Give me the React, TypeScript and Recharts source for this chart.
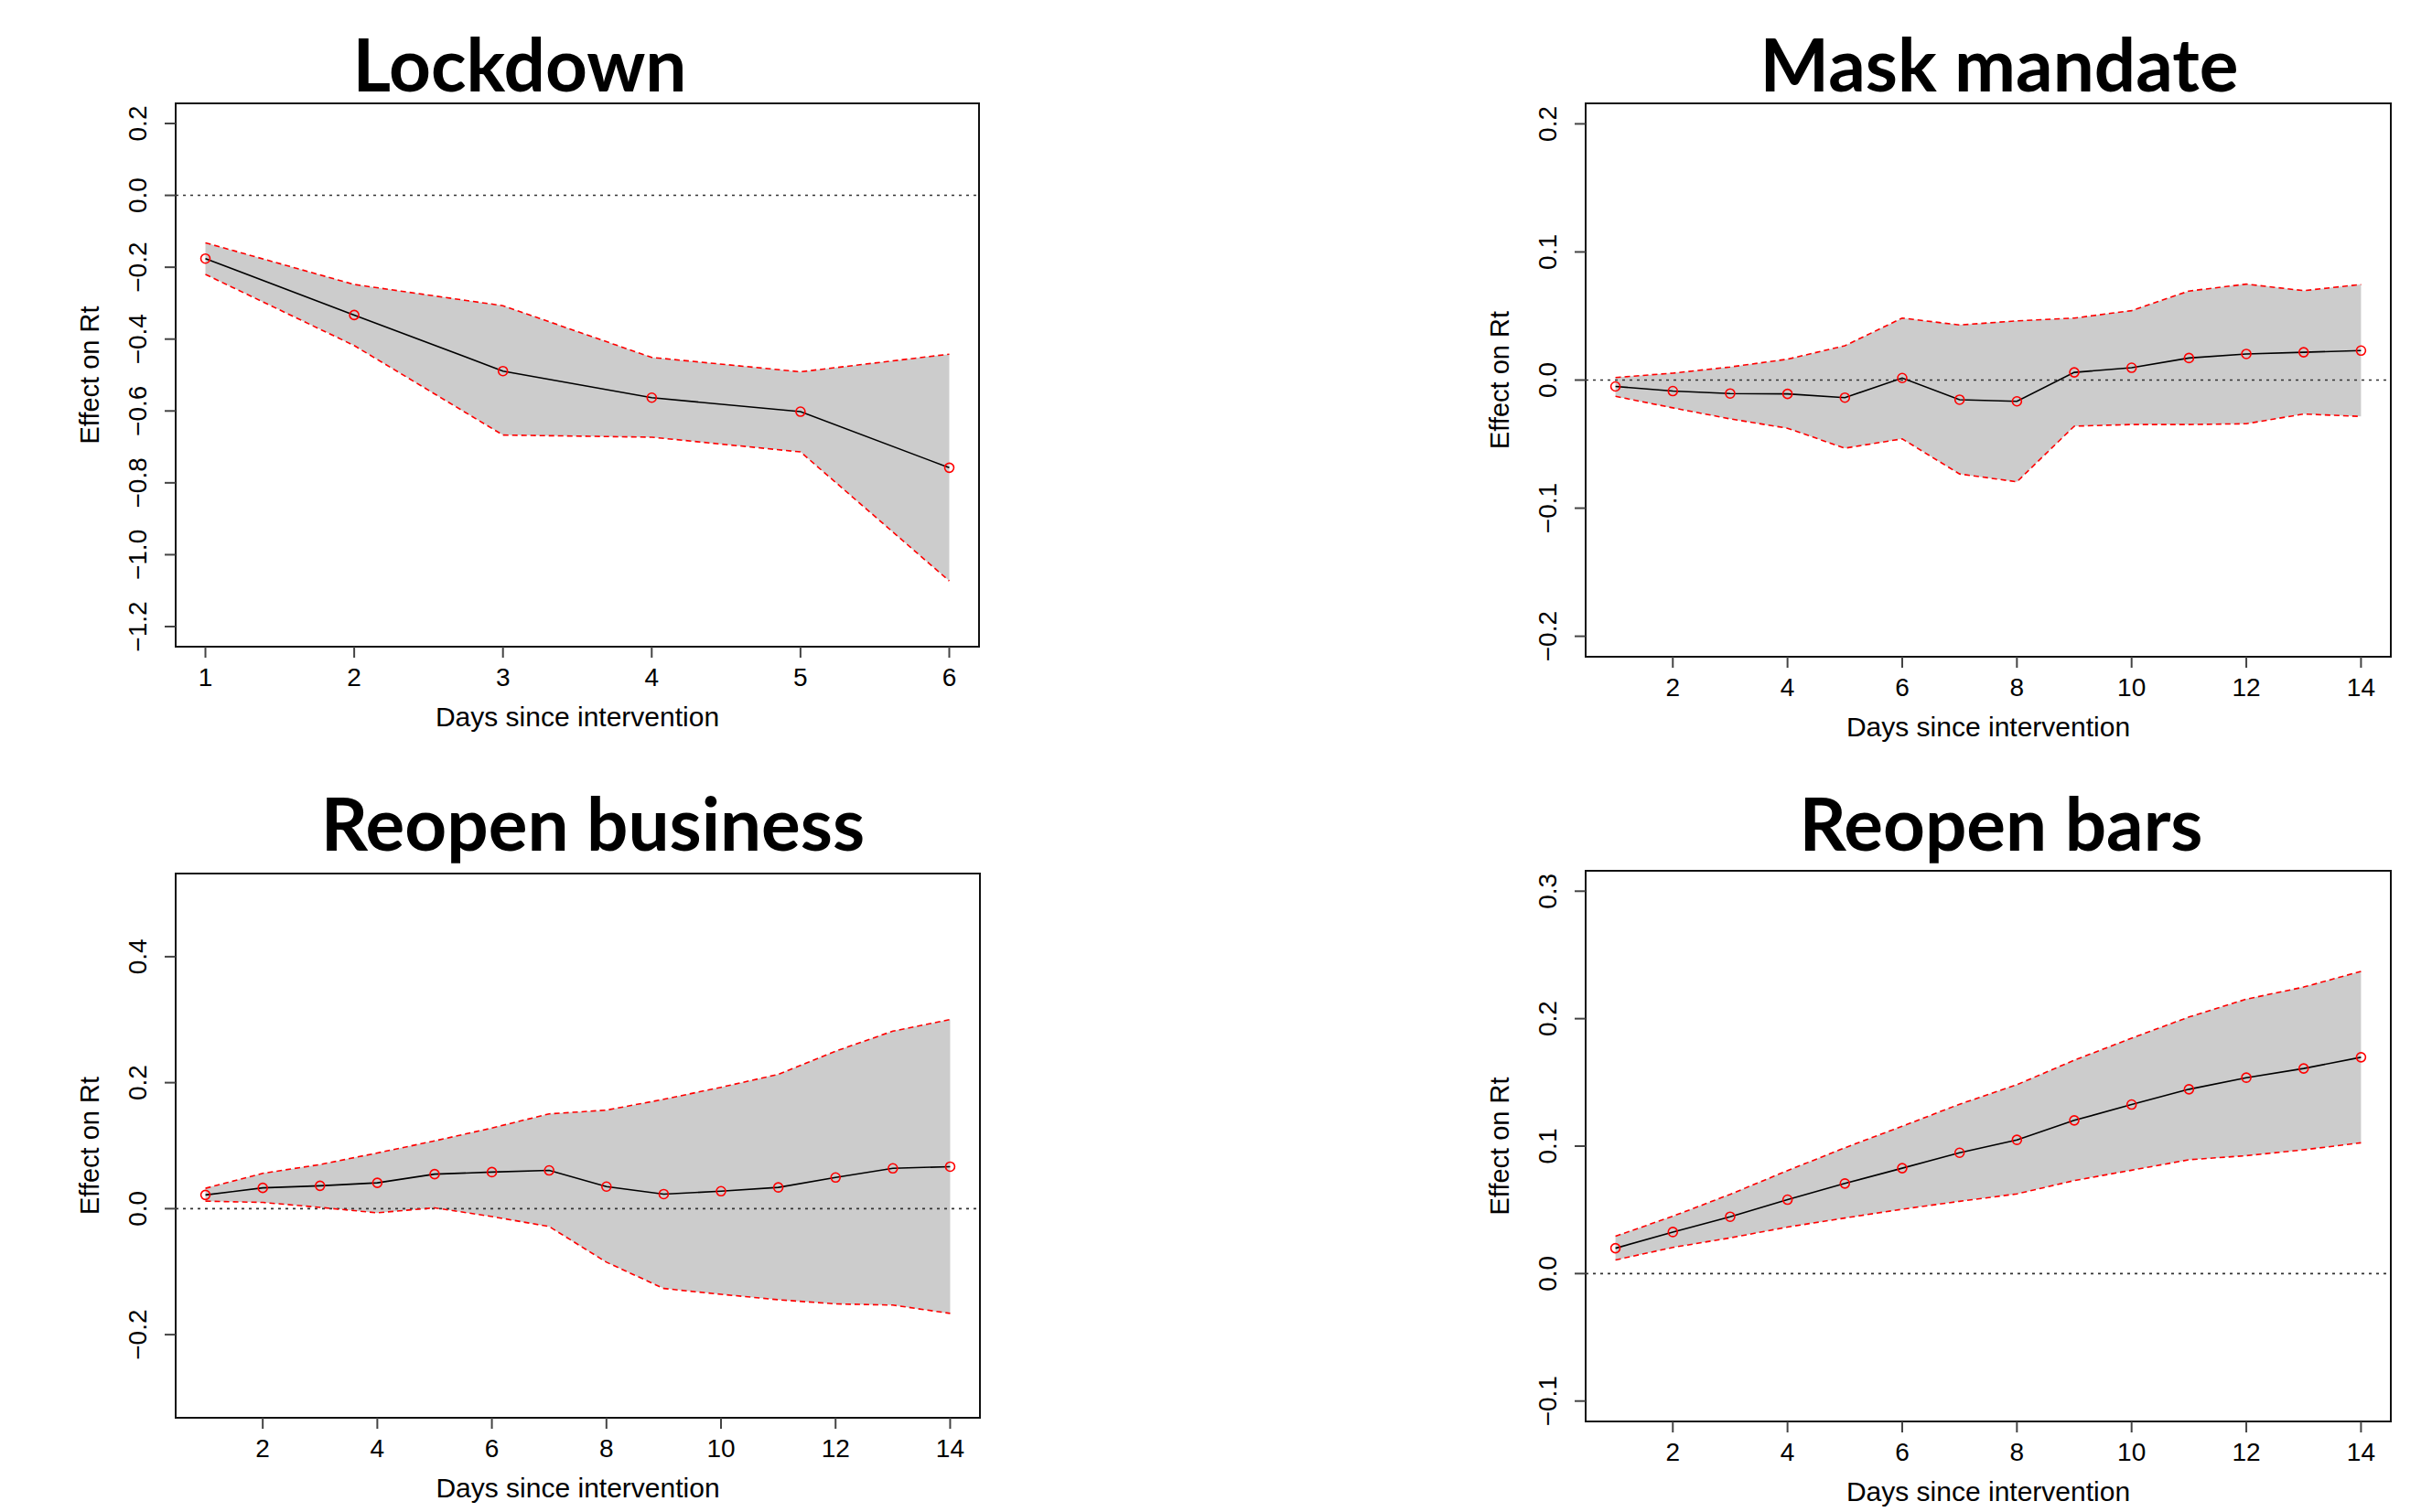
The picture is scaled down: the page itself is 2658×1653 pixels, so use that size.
import React from 'react';
import {
  ComposedChart,
  Area,
  Line,
  XAxis,
  YAxis,
  ReferenceLine,
  ReferenceArea,
  Label,
} from 'recharts';

const AXIS_FONT = '"Liberation Sans", Arial, Helvetica, sans-serif';
const TITLE_FONT = 'Lato, "Open Sans", sans-serif';

// ---- data ----
const days6 = [1, 2, 3, 4, 5, 6];
const days14 = [1, 2, 3, 4, 5, 6, 7, 8, 9, 10, 11, 12, 13, 14];

const lockdownMean = [-0.176, -0.333, -0.489, -0.563, -0.602, -0.758];
const lockdownUpper = [-0.132, -0.248, -0.307, -0.451, -0.491, -0.442];
const lockdownLower = [-0.22, -0.418, -0.667, -0.673, -0.714, -1.073];

const maskMean = [-0.005, -0.0086, -0.0105, -0.0108, -0.0137, 0.0016, -0.0153, -0.0166, 0.006, 0.0096, 0.0172, 0.0204, 0.0217, 0.023];
const maskUpper = [0.002, 0.0054, 0.0102, 0.0163, 0.0268, 0.0484, 0.043, 0.0462, 0.0484, 0.0542, 0.0695, 0.0749, 0.0698, 0.0746];
const maskLower = [-0.0127, -0.0217, -0.0303, -0.0376, -0.0532, -0.0459, -0.0733, -0.0794, -0.036, -0.0347, -0.0347, -0.0341, -0.0265, -0.0284];

const businessMean = [0.0218, 0.033, 0.0363, 0.041, 0.0548, 0.058, 0.0607, 0.035, 0.0231, 0.0277, 0.0337, 0.0495, 0.064, 0.0667];
const businessUpper = [0.0323, 0.0561, 0.07, 0.0884, 0.1076, 0.128, 0.1505, 0.1564, 0.1736, 0.1927, 0.2132, 0.25, 0.2818, 0.3003];
const businessLower = [0.0119, 0.0099, 0.002, -0.0066, 0.0013, -0.0125, -0.0284, -0.085, -0.1267, -0.136, -0.1446, -0.1512, -0.1531, -0.1663];

const barsMean = [0.0199, 0.0326, 0.0446, 0.058, 0.0707, 0.0827, 0.0948, 0.1049, 0.1202, 0.1326, 0.1446, 0.1537, 0.1609, 0.1697];
const barsUpper = [0.0293, 0.045, 0.0622, 0.0808, 0.0987, 0.1156, 0.1329, 0.1482, 0.1674, 0.1847, 0.2013, 0.2153, 0.2248, 0.2371];
const barsLower = [0.0107, 0.0205, 0.028, 0.0365, 0.0436, 0.0505, 0.0567, 0.0625, 0.073, 0.0811, 0.0893, 0.0925, 0.0971, 0.1026];

const xTicks6 = [1, 2, 3, 4, 5, 6];
const xTicks14 = [2, 4, 6, 8, 10, 12, 14];

const lockdownYTicks = [-1.2, -1.0, -0.8, -0.6, -0.4, -0.2, 0.0, 0.2];
const maskYTicks = [-0.2, -0.1, 0.0, 0.1, 0.2];
const businessYTicks = [-0.2, 0.0, 0.2, 0.4];
const barsYTicks = [-0.1, 0.0, 0.1, 0.2, 0.3];

const lockdownYLim = [-1.2, 0.2];
const maskYLim = [-0.2, 0.2];
const businessYLim = [-0.3, 0.5];
const barsYLim = [-0.1, 0.3];

// R pads axis limits by 4% on each side
const rRange = (lim: number[]): [number, number] => {
  const pad = (lim[1] - lim[0]) * 0.04;
  return [lim[0] - pad, lim[1] + pad];
};

const buildRows = (days: number[], mean: number[], lower: number[], upper: number[]) =>
  days.map((d, i) => ({
    day: d,
    mean: mean[i],
    upper: upper[i],
    lower: lower[i],
    band: [lower[i], upper[i]],
  }));

const fmt = (v: number) => v.toFixed(1).replace('-', '\u2212');

const YTick = (props: any) => {
  const { x, y, payload } = props;
  return (
    <text
      x={x}
      y={y}
      transform={`rotate(-90, ${x}, ${y})`}
      textAnchor="middle"
      fontSize={28}
      fontFamily={AXIS_FONT}
      fill="#000"
    >
      {fmt(payload.value)}
    </text>
  );
};

const YW = 188;
const MT = 10;
const MR = 10;
const XH = 110;

type PanelProps = {
  title: string;
  titleX: number;
  titleBase: number;
  boxLeft: number;
  boxTop: number;
  boxW: number;
  boxH: number;
  rows: any[];
  xLim: number[];
  xTicks: number[];
  yLim: number[];
  yTicks: number[];
};

function Panel({ title, titleX, titleBase, boxLeft, boxTop, boxW, boxH, rows, xLim, xTicks, yLim, yTicks }: PanelProps) {
  const xDomain = rRange(xLim);
  const yDomain = rRange(yLim);
  const tickLine = { stroke: '#444', strokeWidth: 2 };
  return (
    <>
      <div
        style={{
          position: 'absolute',
          left: titleX - 500,
          top: titleBase - 71,
          width: 1000,
          textAlign: 'center',
          fontFamily: TITLE_FONT,
          fontWeight: 700,
          fontSize: 80,
          lineHeight: '80px',
          color: '#000',
          whiteSpace: 'nowrap',
        }}
      >
        {title}
      </div>
      <div style={{ position: 'absolute', left: boxLeft - YW, top: boxTop - MT }}>
        <ComposedChart
          width={boxW + YW + MR}
          height={boxH + MT + XH}
          data={rows}
          margin={{ top: MT, right: MR, bottom: 0, left: 0 }}
        >
          <XAxis
            dataKey="day"
            type="number"
            domain={xDomain}
            ticks={xTicks}
            interval={0}
            allowDataOverflow
            height={XH}
            axisLine={false}
            tickSize={12}
            tickMargin={11}
            tickLine={tickLine}
            tick={{ fill: '#000', fontSize: 28, fontFamily: AXIS_FONT }}
          >
            <Label
              value="Days since intervention"
              position="insideBottom"
              offset={23}
              fill="#000"
              fontSize={30}
              fontFamily={AXIS_FONT}
            />
          </XAxis>
          <YAxis
            type="number"
            domain={yDomain}
            ticks={yTicks}
            interval={0}
            allowDataOverflow
            width={YW}
            axisLine={false}
            tickSize={12}
            tickMargin={20}
            tickLine={tickLine}
            tick={<YTick />}
          >
            <Label
              value="Effect on Rt"
              angle={-90}
              position="center"
              fill="#000"
              fontSize={29}
              fontFamily={AXIS_FONT}
            />
          </YAxis>
          <Area
            dataKey="band"
            type="linear"
            fill="#cccccc"
            fillOpacity={1}
            stroke="none"
            isAnimationActive={false}
          />
          <ReferenceLine y={0} stroke="#333" strokeWidth={1.6} strokeDasharray="3 5" />
          <Line
            dataKey="upper"
            type="linear"
            stroke="#ff0000"
            strokeWidth={1.6}
            strokeDasharray="6 4"
            dot={false}
            isAnimationActive={false}
          />
          <Line
            dataKey="lower"
            type="linear"
            stroke="#ff0000"
            strokeWidth={1.6}
            strokeDasharray="6 4"
            dot={false}
            isAnimationActive={false}
          />
          <Line
            dataKey="mean"
            type="linear"
            stroke="#000"
            strokeWidth={1.6}
            dot={{ r: 5, stroke: '#ff0000', strokeWidth: 1.6, fill: 'none' }}
            isAnimationActive={false}
          />
          <ReferenceArea
            x1={xDomain[0]}
            x2={xDomain[1]}
            y1={yDomain[0]}
            y2={yDomain[1]}
            fill="none"
            stroke="#111"
            strokeWidth={2}
            ifOverflow="visible"
          />
        </ComposedChart>
      </div>
    </>
  );
}

export default function App() {
  return (
    <div style={{ position: 'absolute', left: 0, top: 0, width: 2658, height: 1653, background: '#fff' }}>
      <Panel
        title="Lockdown"
        titleX={568}
        titleBase={100}
        boxLeft={192}
        boxTop={113}
        boxW={878}
        boxH={594}
        rows={buildRows(days6, lockdownMean, lockdownLower, lockdownUpper)}
        xLim={[1, 6]}
        xTicks={xTicks6}
        yLim={lockdownYLim}
        yTicks={lockdownYTicks}
      />
      <Panel
        title="Mask mandate"
        titleX={2185}
        titleBase={100}
        boxLeft={1733}
        boxTop={113}
        boxW={880}
        boxH={605}
        rows={buildRows(days14, maskMean, maskLower, maskUpper)}
        xLim={[1, 14]}
        xTicks={xTicks14}
        yLim={maskYLim}
        yTicks={maskYTicks}
      />
      <Panel
        title="Reopen business"
        titleX={648}
        titleBase={930}
        boxLeft={192}
        boxTop={955}
        boxW={879}
        boxH={595}
        rows={buildRows(days14, businessMean, businessLower, businessUpper)}
        xLim={[1, 14]}
        xTicks={xTicks14}
        yLim={businessYLim}
        yTicks={businessYTicks}
      />
      <Panel
        title="Reopen bars"
        titleX={2187}
        titleBase={930}
        boxLeft={1733}
        boxTop={952}
        boxW={880}
        boxH={602}
        rows={buildRows(days14, barsMean, barsLower, barsUpper)}
        xLim={[1, 14]}
        xTicks={xTicks14}
        yLim={barsYLim}
        yTicks={barsYTicks}
      />
    </div>
  );
}
